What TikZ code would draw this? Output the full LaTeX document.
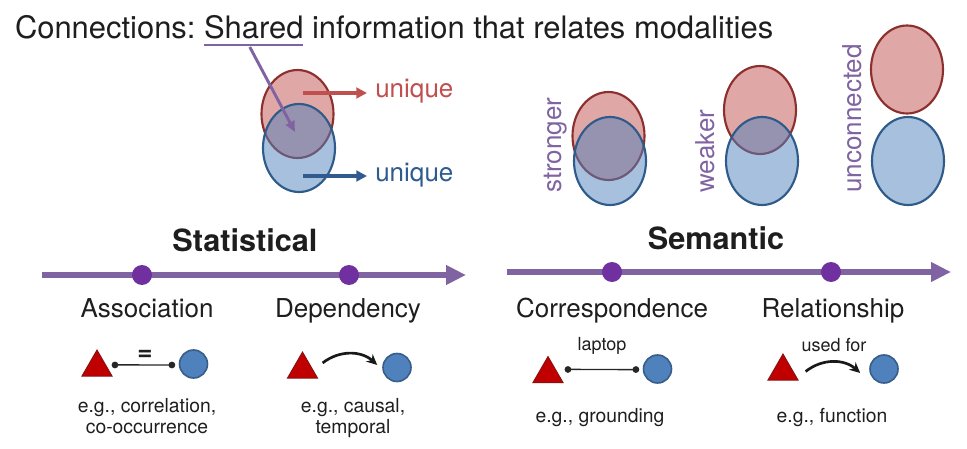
\documentclass[tikz,border=0pt]{standalone}
\usepackage{fontspec}
\setmainfont{TeX Gyre Heros}
\usetikzlibrary{arrows.meta,shapes.geometric}
\definecolor{axispurple}{HTML}{8064A2}
\definecolor{dotpurple}{HTML}{7030A0}
\definecolor{redfill}{HTML}{C0504D}
\definecolor{redline}{HTML}{8C2F2D}
\definecolor{bluefill}{HTML}{4F81BD}
\definecolor{blueline}{HTML}{2F5B8A}
\definecolor{bluetext}{HTML}{2F5B8F}
\definecolor{trired}{HTML}{C00000}
\definecolor{tridark}{HTML}{8B1010}
\definecolor{circline}{HTML}{385D8A}
\definecolor{txt}{HTML}{1E1E1E}
\begin{document}
\begin{tikzpicture}[x=0.75pt,y=-0.75pt,
  titlefont/.style={font=\fontsize{23.2}{27}\selectfont, text=txt, anchor=base west, inner sep=0, outer sep=0},
  heading/.style={font=\fontsize{23}{27}\selectfont\bfseries, text=txt, anchor=base, inner sep=0},
  kindlabel/.style={font=\fontsize{19.5}{23}\selectfont, text=txt, anchor=base, inner sep=0},
  example/.style={font=\fontsize{14.5}{15.75}\selectfont, text=txt, align=center, inner sep=0},
  smalllabel/.style={font=\fontsize{13.5}{16}\selectfont, text=txt, anchor=base, inner sep=0},
  uniq/.style={font=\fontsize{19.5}{23}\selectfont, anchor=base west, inner sep=0},
  rotlabel/.style={font=\fontsize{19.5}{23}\selectfont, text=axispurple, rotate=90, anchor=base west, inner sep=0},
  redell/.style={ellipse, draw=redline, line width=1.6pt, fill=redfill, fill opacity=0.5, draw opacity=1, minimum width=54pt, minimum height=66pt, inner sep=0},
  blueell/.style={ellipse, draw=blueline, line width=1.6pt, fill=bluefill, fill opacity=0.5, draw opacity=1, minimum width=54pt, minimum height=66pt, inner sep=0},
  tri/.style={regular polygon, regular polygon sides=3, minimum size=26pt, inner sep=0, fill=trired, draw=tridark, line width=0.8pt},
  circ/.style={circle, minimum size=21pt, inner sep=0, fill=bluefill, draw=circline, line width=1.2pt},
  axisdot/.style={circle, fill=dotpurple, minimum size=15pt, inner sep=0},
  axisline/.style={draw=axispurple, line width=5pt, -{Triangle[length=15pt,width=14pt]}},
  uline/.style={draw=axispurple, line width=2.2pt},
  sharrow/.style={draw=axispurple, line width=2.2pt, -{Triangle[length=8pt,width=7pt]}},
  colarrow/.style={line width=2.3pt, -{Triangle[length=8pt,width=8pt]}},
  assocline/.style={draw=black!85, line width=1.1pt, {Circle[length=5pt]}-{Circle[length=5pt]}},
  curvearrow/.style={draw=black!90, line width=2pt, -{Stealth[length=8pt,width=7.5pt]}}
]
\useasboundingbox (0,0) rectangle (967,449);

% title
\node[titlefont] (tA) at (15,39) {Connections:};
\node[titlefont] (tB) at ([xshift=6.4pt]tA.base east) {Shared};
\node[titlefont] (tC) at ([xshift=6.4pt]tB.base east) {information that relates modalities};
\draw[uline] ([yshift=-4.5pt]tB.base west) -- ([yshift=-4.5pt]tB.base east);
\coordinate (ulm) at ([xshift=-3pt,yshift=-6pt]tB.base);
\coordinate (shp) at (295,132);

% main venn
\node[redell] (r0) at (297.5,114) {};
\node[blueell] (b0) at (299,148) {};
\draw[sharrow] (ulm) -- (shp);
\coordinate (ra) at (303,93);
\coordinate (ba) at (303,176);
\node[uniq, text=redfill] (u1) at (375,98) {unique};
\node[uniq, text=bluetext] (u2) at (375,181) {unique};
\draw[colarrow, draw=redfill, fill=redfill] (ra) -- ([xshift=-6pt]ra -| u1.west);
\draw[colarrow, draw=bluetext, fill=bluetext] (ba) -- ([xshift=-6pt]ba -| u2.west);

% strength venns
\node[redell] (r1) at (608.5,136) {};
\node[blueell] (b1) at (610,161) {};
\node[redell] (r2) at (760,110) {};
\node[blueell] (b2) at (762,161) {};
\node[redell] (r3) at (907,69.5) {};
\node[blueell] (b3) at (908,161) {};
\node[rotlabel] (l1) at (561,193) {stronger};
\node[rotlabel] (l2) at (714,193) {weaker};
\node[rotlabel] (l3) at (861,193) {unconnected};

% headings and axes
\node[heading] (hs) at (245,251) {Statistical};
\node[heading] (hm) at (716,249) {Semantic};
\coordinate (s0) at (42,275);
\coordinate (s1) at (466,275);
\coordinate (m0) at (507,272);
\coordinate (m1) at (951,272);
\draw[axisline] (s0) -- (s1);
\draw[axisline] (m0) -- (m1);
\node[axisdot] (d1) at (142,275) {};
\node[axisdot] (d2) at (349,275) {};
\node[axisdot] (d3) at (612,272) {};
\node[axisdot] (d4) at (831,272) {};

% kind labels
\node[kindlabel] (k1) at (147,317) {Association};
\node[kindlabel] (k2) at (348,317) {Dependency};
\node[kindlabel] (k3) at (612,317) {Correspondence};
\node[kindlabel] (k4) at (833,317) {Relationship};

% icons
\node[tri] (t1) at (97,367.5) {};
\node[circ] (c1) at (193.5,364) {};
\node[tri] (t2) at (302.5,369.5) {};
\node[circ] (c2) at (397,367.5) {};
\node[tri] (t3) at (548,374) {};
\node[circ] (c3) at (657.5,369) {};
\node[tri] (t4) at (783,371.5) {};
\node[circ] (c4) at (884,369) {};

\node[font=\fontsize{19.5}{23}\selectfont\bfseries, text=txt, anchor=base, inner sep=0] (eq) at (145,360) {=};
\node[smalllabel] (lp) at (602,350) {laptop};
\node[smalllabel] (uf) at (834,351) {used for};

\draw[assocline] ([xshift=3pt,yshift=1.9pt]t1.east) -- ([xshift=-2.6pt,yshift=-0.75pt]c1.west);
\draw[assocline] ([xshift=4.5pt,yshift=3.4pt]t3.east) -- ([xshift=-2.6pt,yshift=-0.4pt]c3.west);
\draw[curvearrow] ([xshift=7.1pt,yshift=4.9pt]t2.east) to[bend left=40] ([xshift=-3.75pt,yshift=1.9pt]c2.west);
\draw[curvearrow] ([xshift=9pt]t4.east) to[bend left=40] ([xshift=-6.75pt,yshift=-3pt]c4.west);

% examples
\node[example, anchor=north] (e1) at (147,398) {e.g., correlation,\\co-occurrence};
\node[example, anchor=north] (e2) at (353,398) {e.g., causal,\\temporal};
\node[example, anchor=base] (e3) at (600,422) {e.g., grounding};
\node[example, anchor=base] (e4) at (832,422) {e.g., function};
\end{tikzpicture}
\end{document}
